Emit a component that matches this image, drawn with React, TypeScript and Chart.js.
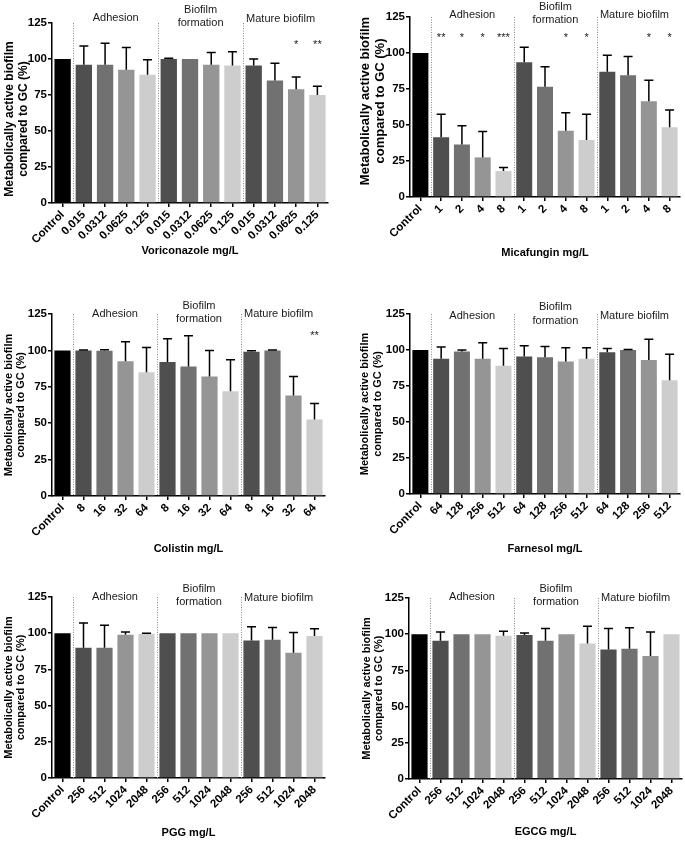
import React, { useEffect, useRef } from 'react';
import { Chart, registerables } from 'chart.js';

Chart.register(...registerables);
Chart.defaults.font.family = "'Liberation Sans', Arial, sans-serif";

// ---------- data ----------
const groupNames = ['Adhesion', 'Biofilm|formation', 'Mature biofilm'];
const yTitleLines = ['Metabolically active biofilm', 'compared to GC (%)'];
const yTickMax = 125;
const yTickStep = 25;

const voriLabels = ['Control', '0.015', '0.0312', '0.0625', '0.125', '0.015', '0.0312', '0.0625', '0.125', '0.015', '0.0312', '0.0625', '0.125'];
const voriMeans = [100, 96, 96, 92.5, 89, 100, 100, 96, 95.5, 95.5, 85, 79, 75];
const voriErrs = [0, 13, 15, 15.5, 10.5, 0.5, 0, 8.5, 9.5, 4.5, 12, 8.5, 6];
const voriSig = ['', '', '', '', '', '', '', '', '', '', '', '*', '**'];

const micaLabels = ['Control', '1', '2', '4', '8', '1', '2', '4', '8', '1', '2', '4', '8'];
const micaMeans = [100, 41.5, 36.5, 27.5, 18, 93.5, 76.5, 46, 39.5, 87, 84.5, 66.5, 48.5];
const micaErrs = [0, 16, 13, 18, 2.5, 10.5, 14, 12.5, 18, 11.5, 13, 14.5, 12];
const micaSig = ['', '**', '*', '*', '***', '', '', '*', '*', '', '', '*', '*'];

const coliLabels = ['Control', '8', '16', '32', '64', '8', '16', '32', '64', '8', '16', '32', '64'];
const coliMeans = [100, 100, 99.7, 92.5, 85, 92, 89, 82, 72, 99, 100, 69, 52.5];
const coliErrs = [0, 0.3, 0.7, 13.5, 17, 16, 21, 18, 21.5, 0.8, 0.3, 13, 11];
const coliSig = ['', '', '', '', '', '', '', '', '', '', '', '', '**'];

const farnLabels = ['Control', '64', '128', '256', '512', '64', '128', '256', '512', '64', '128', '256', '512'];
const farnMeans = [100, 94, 99, 94, 89, 95.5, 95, 92, 94, 98.5, 100, 93, 79];
const farnErrs = [0, 8, 1, 11, 12, 7.5, 7.5, 9.5, 7.5, 2.5, 0.3, 14.5, 18];
const farnSig = ['', '', '', '', '', '', '', '', '', '', '', '', ''];

const pggLabels = ['Control', '256', '512', '1024', '2048', '256', '512', '1024', '2048', '256', '512', '1024', '2048'];
const pggMeans = [100, 90, 90, 99, 99.7, 100, 100, 100, 100, 95, 95.5, 86.5, 98];
const pggErrs = [0, 17, 15.5, 1.8, 0.3, 0, 0, 0, 0, 9.5, 8.5, 14, 5];
const pggSig = ['', '', '', '', '', '', '', '', '', '', '', '', ''];

const egcgLabels = ['Control', '256', '512', '1024', '2048', '256', '512', '1024', '2048', '256', '512', '1024', '2048'];
const egcgMeans = [100, 95.5, 100, 100, 99, 99.5, 95.5, 100, 93.5, 89.5, 90, 85, 100];
const egcgErrs = [0, 6, 0, 0, 3, 1.3, 8.5, 0, 12, 14.5, 14.5, 16.5, 0];
const egcgSig = ['', '', '', '', '', '', '', '', '', '', '', '', ''];

// ---------- styles ----------
const shadeColors = ['#000000', '#4f4f4f', '#717171', '#959595', '#cdcdcd'];
const barColors = [0, 1, 2, 3, 4, 1, 2, 3, 4, 1, 2, 3, 4].map((k) => shadeColors[k]);
const X_TITLE_SIZE = 11;
const TICK_SIZE = 11.5;

type Panel = {
  labels: string[]; means: number[]; errs: number[]; sig: string[]; xTitle: string;
  box: { x: number; y: number; w: number; h: number };
  plot: { left: number; right: number; top: number; bottom: number };
  titleY: number; yTitleX: number; yTitleDy: number; yTitleSize: number;
  groupDy: number; matureDy: number; sigValue: number;
};

const panels: Panel[] = [
  { labels: voriLabels, means: voriMeans, errs: voriErrs, sig: voriSig, xTitle: 'Voriconazole mg/L',
    box: { x: 0, y: 0, w: 342, h: 265 }, plot: { left: 52, right: 328, top: 23, bottom: 203 },
    titleY: 251, yTitleX: 9.5, yTitleDy: 6, yTitleSize: 12, groupDy: -5, matureDy: -4, sigValue: 112 },
  { labels: micaLabels, means: micaMeans, errs: micaErrs, sig: micaSig, xTitle: 'Micafungin mg/L',
    box: { x: 342, y: 0, w: 343, h: 265 }, plot: { left: 410, right: 680, top: 17, bottom: 197 },
    titleY: 253, yTitleX: 23, yTitleDy: -6, yTitleSize: 13, groupDy: -2, matureDy: -2, sigValue: 113 },
  { labels: coliLabels, means: coliMeans, errs: coliErrs, sig: coliSig, xTitle: 'Colistin mg/L',
    box: { x: 0, y: 265, w: 342, h: 295 }, plot: { left: 52, right: 325, top: 314, bottom: 496 },
    titleY: 549, yTitleX: 8.5, yTitleDy: 0, yTitleSize: 11, groupDy: 0, matureDy: 0, sigValue: 112 },
  { labels: farnLabels, means: farnMeans, errs: farnErrs, sig: farnSig, xTitle: 'Farnesol mg/L',
    box: { x: 342, y: 265, w: 343, h: 295 }, plot: { left: 410, right: 680, top: 314, bottom: 494 },
    titleY: 549, yTitleX: 23.3, yTitleDy: 0, yTitleSize: 11, groupDy: 1.5, matureDy: 1.5, sigValue: 112 },
  { labels: pggLabels, means: pggMeans, errs: pggErrs, sig: pggSig, xTitle: 'PGG mg/L',
    box: { x: 0, y: 560, w: 342, h: 281 }, plot: { left: 52, right: 325, top: 597, bottom: 778 },
    titleY: 833, yTitleX: 8.5, yTitleDy: 0, yTitleSize: 11, groupDy: 0, matureDy: 1, sigValue: 112 },
  { labels: egcgLabels, means: egcgMeans, errs: egcgErrs, sig: egcgSig, xTitle: 'EGCG mg/L',
    box: { x: 342, y: 560, w: 343, h: 281 }, plot: { left: 409, right: 682, top: 598, bottom: 779 },
    titleY: 832, yTitleX: 24.5, yTitleDy: 0, yTitleSize: 11, groupDy: -1, matureDy: 0, sigValue: 112 },
];

function makeDecor(p: Panel) {
  return {
    id: 'panelDecor',
    afterDatasetsDraw(chart: any) {
      const { ctx, chartArea } = chart;
      const x = chart.scales.x;
      const y = chart.scales.y;
      ctx.save();
      // error bars
      ctx.strokeStyle = '#000';
      ctx.lineWidth = 1.5;
      p.means.forEach((m, i) => {
        const e = p.errs[i];
        if (!e) return;
        const px = x.getPixelForValue(i);
        const y0 = y.getPixelForValue(m);
        const y1 = y.getPixelForValue(m + e);
        ctx.beginPath();
        ctx.moveTo(px, y0);
        ctx.lineTo(px, y1);
        ctx.moveTo(px - 4.5, y1);
        ctx.lineTo(px + 4.5, y1);
        ctx.stroke();
      });
      // separators
      const seps = [0, 4, 8].map((i) => (x.getPixelForValue(i) + x.getPixelForValue(i + 1)) / 2);
      ctx.strokeStyle = '#8a8a8a';
      ctx.lineWidth = 1;
      ctx.setLineDash([1, 1.5]);
      seps.forEach((sx) => {
        ctx.beginPath();
        ctx.moveTo(Math.round(sx) + 0.5, chartArea.top);
        ctx.lineTo(Math.round(sx) + 0.5, chartArea.bottom);
        ctx.stroke();
      });
      ctx.setLineDash([]);
      // group labels
      ctx.fillStyle = '#1a1a1a';
      ctx.font = "11px 'Liberation Sans', Arial, sans-serif";
      ctx.textBaseline = 'middle';
      const gTop = chartArea.top + p.groupDy;
      const c1 = (x.getPixelForValue(2) + x.getPixelForValue(3)) / 2;
      ctx.textAlign = 'center';
      ctx.fillText(groupNames[0], c1, gTop);
      const c2 = (x.getPixelForValue(6) + x.getPixelForValue(7)) / 2;
      const bf = groupNames[1].split('|');
      ctx.fillText(bf[0], c2, gTop - 8.3);
      ctx.fillText(bf[1], c2, gTop + 5);
      ctx.textAlign = 'left';
      ctx.fillText(groupNames[2], seps[2] + 3, chartArea.top + p.matureDy);
      // significance
      ctx.textAlign = 'center';
      ctx.textBaseline = 'alphabetic';
      const sy = y.getPixelForValue(p.sigValue) + 6.4;
      p.sig.forEach((s, i) => {
        if (s) ctx.fillText(s, x.getPixelForValue(i), sy);
      });
      // y title
      ctx.fillStyle = '#000';
      ctx.font = `bold ${p.yTitleSize}px 'Liberation Sans', Arial, sans-serif`;
      ctx.textBaseline = 'middle';
      const cy = (chartArea.top + chartArea.bottom) / 2 + p.yTitleDy;
      yTitleLines.forEach((line, k) => {
        ctx.save();
        ctx.translate(p.yTitleX + k * p.yTitleSize * 1.15, cy);
        ctx.rotate(-Math.PI / 2);
        ctx.fillText(line, 0, 0);
        ctx.restore();
      });
      ctx.restore();
    },
  };
}

function PanelChart({ p }: { p: Panel }) {
  const ref = useRef<HTMLCanvasElement | null>(null);
  useEffect(() => {
    if (!ref.current) return;
    const half = (X_TITLE_SIZE * 1.2) / 2;
    const yAxisW = p.plot.left - p.box.x;
    const xAxisH = p.titleY + half - p.plot.bottom;
    const padTop = p.plot.top - p.box.y;
    const padRight = p.box.x + p.box.w - p.plot.right;
    const padBottom = p.box.y + p.box.h - (p.titleY + half);
    const tickFont = { size: TICK_SIZE, weight: 'bold' as const };
    const chart = new Chart(ref.current, {
      type: 'bar',
      data: {
        labels: p.labels,
        datasets: [{ data: p.means, backgroundColor: barColors, borderWidth: 0, barPercentage: 0.77, categoryPercentage: 1 }],
      },
      options: {
        animation: false,
        responsive: false,
        devicePixelRatio: 1,
        layout: { padding: { left: 0, top: padTop, right: padRight, bottom: padBottom } },
        plugins: { legend: { display: false }, tooltip: { enabled: false }, title: { display: false } },
        scales: {
          x: {
            grid: { display: true, drawOnChartArea: false, drawTicks: true, tickLength: 4, color: '#000', lineWidth: 1.5, offset: false },
            border: { display: true, color: '#000', width: 1.5 },
            ticks: { minRotation: 45, maxRotation: 45, autoSkip: false, padding: 1, color: '#000', font: tickFont },
            title: { display: true, text: p.xTitle, color: '#000', font: { size: X_TITLE_SIZE, weight: 'bold' }, padding: 0 },
            afterFit: (s: any) => { s.height = xAxisH; },
          },
          y: {
            min: 0,
            max: yTickMax,
            grid: { display: true, drawOnChartArea: false, drawTicks: true, tickLength: 4, color: '#000', lineWidth: 1.5 },
            border: { display: true, color: '#000', width: 1.5 },
            ticks: { stepSize: yTickStep, padding: 1, color: '#000', font: tickFont },
            afterFit: (s: any) => { s.width = yAxisW; },
          },
        },
      } as any,
      plugins: [makeDecor(p)],
    });
    return () => chart.destroy();
  }, [p]);
  return (
    <canvas
      ref={ref}
      width={p.box.w}
      height={p.box.h}
      style={{ position: 'absolute', left: p.box.x, top: p.box.y, width: p.box.w, height: p.box.h }}
    />
  );
}

export default function App() {
  return (
    <div style={{ position: 'absolute', left: 0, top: 0, width: 685, height: 841, background: '#fff', overflow: 'hidden' }}>
      {panels.map((p, i) => (
        <PanelChart key={i} p={p} />
      ))}
    </div>
  );
}
